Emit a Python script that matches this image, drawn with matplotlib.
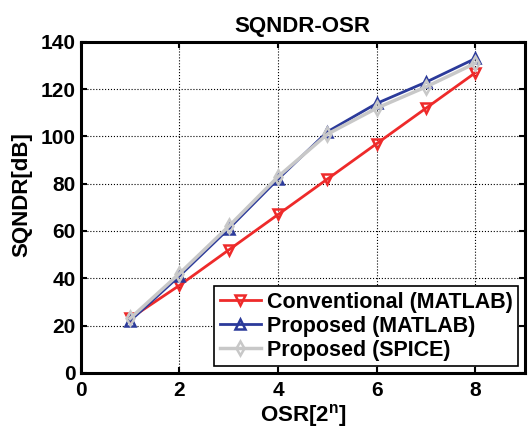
import matplotlib
matplotlib.use("Agg")
import matplotlib.pyplot as plt

plt.rcParams['font.family'] = ['Liberation Sans', 'DejaVu Sans']
plt.rcParams['font.weight'] = 'bold'
plt.rcParams['mathtext.fontset'] = 'custom'
plt.rcParams['mathtext.bf'] = 'Liberation Sans:bold'

osr = [1, 2, 3, 4, 5, 6, 7, 8]
conventional = [23, 37, 52, 67, 82, 97, 112, 127]
proposed_matlab = [22, 41, 61, 82, 102, 114, 123, 133]
proposed_spice = [23, 42, 62, 83, 101, 112, 121, 131]

fig = plt.figure(figsize=(5.28, 4.32), dpi=100)
ax = fig.add_axes([0.153, 0.137, 0.841, 0.766])

ax.plot(osr, conventional, color='#ee2a2a', lw=2, marker='v', ms=7,
        mfc='none', mec='#ee2a2a', mew=1.8, label='Conventional (MATLAB)')
ax.plot(osr, proposed_matlab, color='#2b3a9a', lw=2, marker='^', ms=7,
        mfc='none', mec='#2b3a9a', mew=1.8, label='Proposed (MATLAB)')
ax.plot(osr, proposed_spice, color='#c8c8c8', lw=2.5, marker='d', ms=7,
        mfc='none', mec='#c8c8c8', mew=1.8, label='Proposed (SPICE)')

ax.set_xlim(0, 9)
ax.set_ylim(0, 140)
ax.set_xticks([0, 2, 4, 6, 8])
ax.set_yticks(range(0, 141, 20))
ax.grid(True, color='black', ls=':', lw=0.8)
ax.tick_params(direction='in', top=True, right=True, labelsize=15, width=1.5,
               length=4)
ax.tick_params(axis='x', pad=6)
for s in ax.spines.values():
    s.set_linewidth(2.2)

ax.set_title('SQNDR-OSR', fontsize=16, fontweight='bold', pad=7)
ax.set_xlabel('OSR[2$^\\mathbf{n}$]', fontsize=16, fontweight='bold', labelpad=1)
ax.set_ylabel('SQNDR[dB]', fontsize=16, fontweight='bold')
ax.yaxis.set_label_coords(-0.108, 0.54)

leg = ax.legend(loc='lower right', fontsize=15.5, fancybox=False, edgecolor='black',
                handlelength=1.9, handletextpad=0.3, borderpad=0.25,
                labelspacing=0.15, borderaxespad=0.3, framealpha=1)
leg.get_frame().set_linewidth(1.2)

fig.savefig('out.png', dpi=100)
